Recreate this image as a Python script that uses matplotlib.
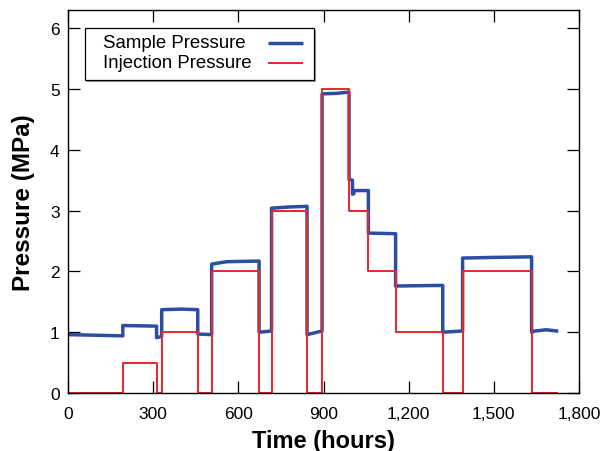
import matplotlib
matplotlib.use("Agg")
import matplotlib.pyplot as plt
from matplotlib.ticker import FuncFormatter
from matplotlib.patches import Rectangle

plt.rcParams['font.family'] = ['Liberation Sans', 'DejaVu Sans']

# --- données ---
# pression d'injection (paliers)
inj_t = [0, 193, 193, 312, 312, 330, 330, 457, 457, 506, 506, 673, 673, 717, 717, 842,
         842, 895, 895, 990, 990, 1058, 1058, 1154, 1154, 1320, 1320, 1390, 1390, 1633,
         1633, 1721]
inj_p = [0, 0, 0.5, 0.5, 0, 0, 1.0, 1.0, 0, 0, 2.0, 2.0, 0, 0, 3.0, 3.0,
         0, 0, 5.0, 5.0, 3.0, 3.0, 2.0, 2.0, 1.0, 1.0, 0, 0, 2.0, 2.0,
         0, 0]

# pression de l'échantillon
smp_t = [0, 100, 193, 193, 312, 312, 330, 330, 400, 457, 457, 506, 506, 560, 673,
         673, 717, 717, 780, 842, 842, 895, 895, 950, 990, 990, 1002, 1002, 1007,
         1007, 1058, 1058, 1154, 1154, 1320, 1320, 1390, 1390, 1500, 1633, 1633,
         1645, 1685, 1721]
smp_p = [0.96, 0.95, 0.94, 1.11, 1.10, 0.91, 0.93, 1.37, 1.38, 1.37, 0.97, 0.96, 2.12, 2.16, 2.17,
         1.0, 1.02, 3.04, 3.06, 3.07, 0.96, 1.02, 4.92, 4.93, 4.95, 3.51, 3.50, 3.27, 3.28,
         3.33, 3.33, 2.63, 2.62, 1.76, 1.77, 1.0, 1.02, 2.22, 2.23, 2.24, 1.0,
         1.02, 1.04, 1.02]

labels = ['Sample Pressure', 'Injection Pressure']
colors = ['#2b4ea2', '#e8262d']
widths = [2.5, 1.4]

fig = plt.figure(figsize=(6.03, 4.52), dpi=100)
ax = fig.add_axes([0.1128, 0.1283, 0.8474, 0.8474])

ax.plot(smp_t, smp_p, color=colors[0], lw=widths[0])
ax.plot(inj_t, inj_p, color=colors[1], lw=widths[1])

ax.set_xlim(0, 1800)
ax.set_ylim(0, 6.3)
ax.set_xticks(range(0, 1801, 300))
ax.set_yticks(range(0, 7))
ax.xaxis.set_major_formatter(FuncFormatter(lambda v, p: f"{int(v):,}"))
ax.tick_params(direction='in', length=8.5, width=0.9, top=True, right=True,
               labelsize=12.5)
ax.tick_params(axis='x', pad=9)
ax.tick_params(axis='y', pad=6)
for s in ax.spines.values():
    s.set_linewidth(1.0)

ax.set_xlabel('Time (hours)', fontsize=17, fontweight='bold', labelpad=6)
ax.set_ylabel('Pressure (MPa)', fontsize=17.5, fontweight='bold', labelpad=11)

# --- légende dessinée à la main (texte à gauche, trait à droite) ---
tr = ax.transAxes
ax.add_patch(Rectangle((0.0373, 0.812), 0.448, 0.136, transform=tr, facecolor='#999999',
                       edgecolor='none', zorder=4, clip_on=False))
ax.add_patch(Rectangle((0.0333, 0.817), 0.448, 0.136, transform=tr, facecolor='white',
                       edgecolor='black', lw=0.9, zorder=5, clip_on=False))
for i, (lab, c, w) in enumerate(zip(labels, colors, widths)):
    y = 0.914 - i * 0.052
    ax.text(0.0685, y, lab, transform=tr, fontsize=13.4, va='center', ha='left', zorder=6)
    ax.plot([0.391, 0.460], [y, y], transform=tr, color=c, lw=w, zorder=6,
            solid_capstyle='butt')

plt.savefig('out.png', dpi=100)
